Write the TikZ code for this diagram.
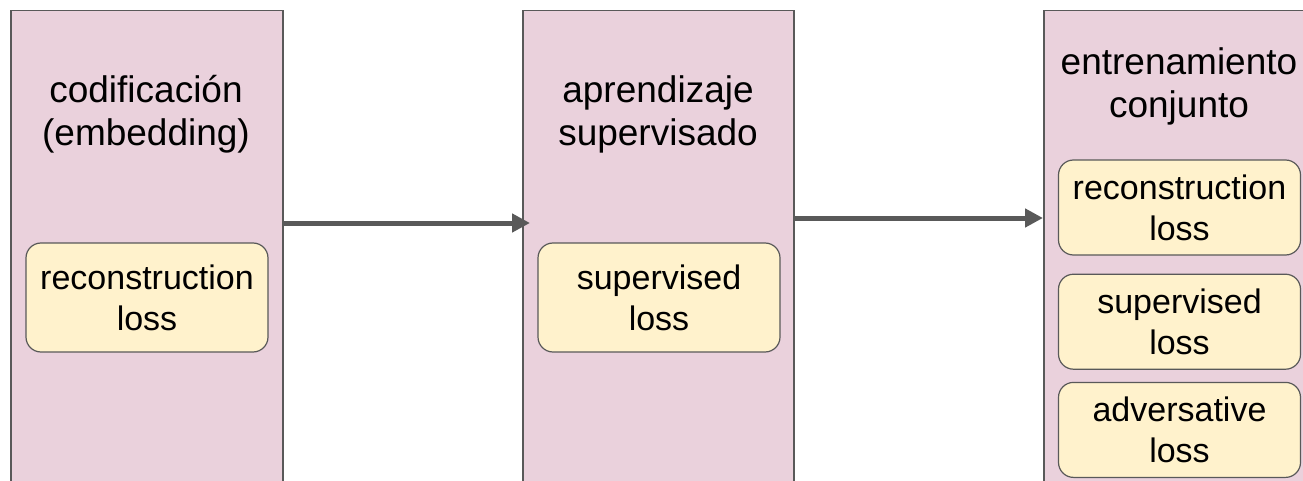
\documentclass[tikz,border=0pt]{standalone}
\usepackage{fontspec}
\setmainfont{Liberation Sans}
\definecolor{stagepink}{RGB}{234,209,220}
\definecolor{losscream}{RGB}{255,242,204}
\definecolor{edgegray}{RGB}{89,89,89}
\usetikzlibrary{arrows.meta, positioning}

\begin{document}
\begin{tikzpicture}[x=1pt, y=-1pt,
  stage/.style={draw=edgegray, line width=1.5pt, fill=stagepink, anchor=north west,
    minimum height=520, inner sep=0pt},
  heading/.style={align=center, font=\fontsize{37}{43}\selectfont},
  lossbox/.style={draw=edgegray, line width=1.2pt, fill=losscream, rounded corners=15pt,
    align=center, minimum width=242, font=\fontsize{34}{41}\selectfont},
  flow/.style={draw=edgegray, line width=5pt, -{Triangle[length=18pt, width=18pt]}}]
  \clip (0,0) rectangle (1303,481);

  % Stages
  \node[stage, minimum width=272] (enc) at (10,10) {};
  \node[stage, minimum width=271] (sup) at (522,10) {};
  \node[stage, minimum width=290] (joint) at (1043,10) {};

  % Headings
  \node[heading] (encT) at (146,114) {codificación\\(embedding)};
  \node[heading] (supT) at (658,114) {aprendizaje\\supervisado};
  \node[heading] (jointT) at (1179,86) {entrenamiento\\conjunto};

  % Losses
  \node[lossbox, minimum height=109] (encL) at (147,297.5) {reconstruction\\loss};
  \node[lossbox, minimum height=109] (supL) at (659,297.5) {supervised\\loss};
  \node[lossbox, minimum height=95] (jrec) at (1179.5,207.5) {reconstruction\\loss};
  \node[lossbox, minimum height=95, below=18pt of jrec] (jsup) {supervised\\loss};
  \node[lossbox, minimum height=95, below=12pt of jsup] (jadv) {adversative\\loss};

  % Arrows
  \draw[flow] (enc.east |- 0,223) -- ([xshift=8pt]sup.west |- 0,223);
  \draw[flow] (sup.east |- 0,218) -- (joint.west |- 0,218);
\end{tikzpicture}
\end{document}
